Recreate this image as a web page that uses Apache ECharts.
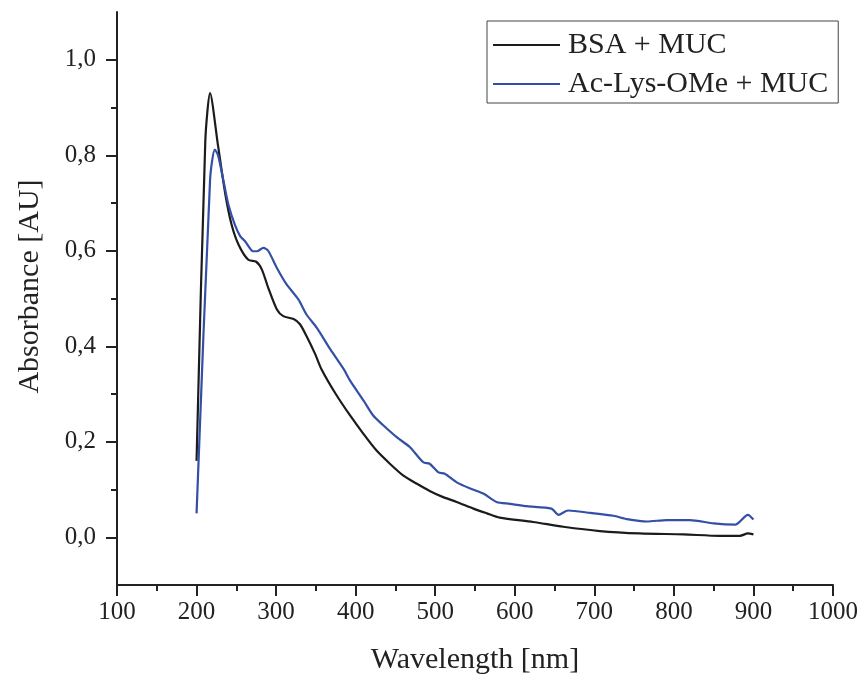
<!DOCTYPE html>
<html>
<head>
<meta charset="utf-8">
<script src="https://cdn.jsdelivr.net/npm/echarts@6/dist/echarts.min.js"></script>
<style>
  html, body { margin: 0; padding: 0; background: #fff; }
  #chart { width: 859px; height: 677px; }
</style>
</head>
<body>
<div id="chart"></div>
<script>
// values
const bsaWl = [200, 211, 217, 227, 236, 244, 253, 265, 275, 282, 290, 301, 309, 322, 330, 338, 349, 357, 375,
  393, 410, 426, 443, 460, 477, 493, 510, 527, 548, 565, 581, 623, 661, 707, 757, 812, 858, 883, 893, 900];
const bsaAbs = [0.16, 0.83, 0.93, 0.82, 0.72, 0.655, 0.612, 0.581, 0.577, 0.561, 0.523, 0.477, 0.463, 0.457, 0.446, 0.422, 0.384, 0.352, 0.30,
  0.255, 0.216, 0.182, 0.154, 0.129, 0.112, 0.097, 0.084, 0.074, 0.060, 0.050, 0.041, 0.032, 0.022, 0.013, 0.008, 0.006, 0.003, 0.003, 0.008, 0.006];

const lysWl = [200, 217, 223, 227, 234, 240, 248, 255, 261, 271, 276, 284, 290, 301, 313, 328, 338, 351, 368, 385,
  393, 410, 422, 435, 452, 468, 485, 493, 504, 512, 527, 544, 561, 577, 594, 615, 646, 655, 667, 695, 724, 741,
  766, 791, 820, 850, 877, 893, 900];
const lysAbs = [0.05, 0.749, 0.812, 0.80, 0.745, 0.697, 0.655, 0.63, 0.62, 0.599, 0.599, 0.606, 0.60, 0.564, 0.53, 0.498, 0.467, 0.439, 0.394, 0.352,
  0.328, 0.286, 0.255, 0.234, 0.209, 0.189, 0.157, 0.154, 0.136, 0.133, 0.115, 0.102, 0.091, 0.074, 0.070, 0.065, 0.060, 0.047, 0.056, 0.051, 0.045, 0.038,
  0.033, 0.036, 0.036, 0.029, 0.0265, 0.047, 0.037];

const seriesNames = ['BSA + MUC', 'Ac-Lys-OMe + MUC'];
const seriesColors = ['#1b1b1b', '#3350a6'];
const yMajor = [0, 0.2, 0.4, 0.6, 0.8, 1.0];
const yMinor = [0.1, 0.3, 0.5, 0.7, 0.9];

const font = '"Liberation Serif", "Times New Roman", serif';
const ink = '#222';

function pairs(xs, ys) {
  return xs.map((x, i) => [x, ys[i]]);
}

var chart = echarts.init(document.getElementById('chart'));
chart.setOption({
  animation: false,
  backgroundColor: '#fff',
  textStyle: { fontFamily: font, color: ink },
  grid: { left: 117, right: 26, top: 12, bottom: 92, containLabel: false, outerBoundsMode: 'none' },
  legend: {
    orient: 'vertical',
    left: 487,
    top: 21,
    padding: [9, 10, 4, 6],
    itemGap: 9,
    itemWidth: 67,
    itemHeight: 2,
    icon: 'rect',
    borderColor: '#444',
    borderWidth: 1,
    textStyle: { fontFamily: font, fontSize: 30, color: ink, padding: [0, 0, 0, 3] },
    data: seriesNames
  },
  xAxis: {
    type: 'value',
    min: 100,
    max: 1000,
    interval: 100,
    name: 'Wavelength [nm]',
    nameLocation: 'middle',
    nameGap: 60,
    nameTextStyle: { fontFamily: font, fontSize: 30, color: ink },
    axisLine: { onZero: false, lineStyle: { color: ink, width: 2 } },
    axisTick: { show: true, length: 11, lineStyle: { color: ink, width: 2 } },
    minorTick: { show: true, splitNumber: 2, length: 6, lineStyle: { color: ink, width: 2 } },
    axisLabel: { fontFamily: font, fontSize: 25, color: ink, margin: 15, formatter: v => String(v) },
    splitLine: { show: false }
  },
  yAxis: [{
    type: 'value',
    min: -0.1,
    max: 1.1,
    name: 'Absorbance [AU]',
    nameLocation: 'middle',
    nameGap: 72,
    nameTextStyle: { fontFamily: font, fontSize: 30, color: ink, padding: [0, 0, 0, 24] },
    axisLine: { show: true, lineStyle: { color: ink, width: 2 } },
    axisTick: { show: true, length: 11, customValues: yMajor, lineStyle: { color: ink, width: 2 } },
    axisLabel: {
      fontFamily: font, fontSize: 25, color: ink, margin: 21,
      customValues: yMajor,
      formatter: v => v.toFixed(1).replace('.', ',')
    },
    splitLine: { show: false }
  }, {
    type: 'value',
    position: 'left',
    min: -0.1,
    max: 1.1,
    axisLine: { show: false },
    axisTick: { show: true, length: 6, customValues: yMinor, lineStyle: { color: ink, width: 2 } },
    axisLabel: { show: false },
    splitLine: { show: false }
  }],
  series: [{
    name: seriesNames[0],
    type: 'line',
    data: pairs(bsaWl, bsaAbs),
    symbol: 'none',
    smooth: 0.25,
    color: seriesColors[0],
    lineStyle: { width: 2.2, color: seriesColors[0] }
  }, {
    name: seriesNames[1],
    type: 'line',
    data: pairs(lysWl, lysAbs),
    symbol: 'none',
    smooth: 0.25,
    color: seriesColors[1],
    lineStyle: { width: 2.2, color: seriesColors[1] }
  }]
});
</script>
</body>
</html>
